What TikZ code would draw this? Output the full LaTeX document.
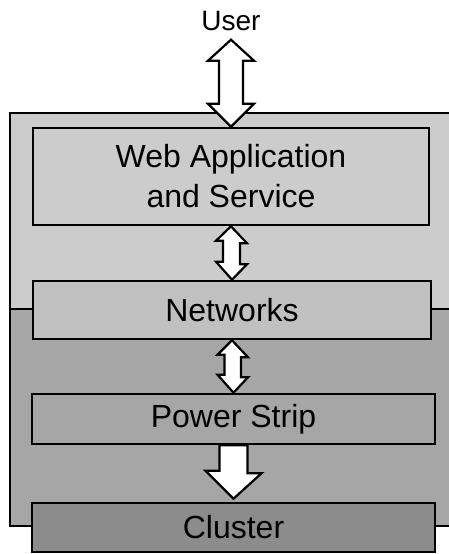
\documentclass[tikz,border=0pt]{standalone}
\usepackage{fontspec}
\setmainfont{Liberation Sans}
\usetikzlibrary{calc}
\definecolor{lightbg}{HTML}{CCCCCC}
\definecolor{darkbg}{HTML}{A6A6A6}
\definecolor{netfill}{HTML}{C0C0C0}
\definecolor{clufill}{HTML}{8C8C8C}
\tikzset{
  layerbox/.style={draw=black, line width=2.6pt, rectangle, inner sep=0pt, align=center,
    font=\fontsize{32}{40}\selectfont},
  blockarrow/.style={draw=black, fill=white, line width=2.2pt, line join=miter},
  region/.style={draw=black, line width=2.4pt},
}
\begin{document}
\begin{tikzpicture}[x=1pt,y=-1pt]
\useasboundingbox (0,0) rectangle (449,554);
\begin{scope}
\clip (0,0) rectangle (449,554);
% background regions
\fill[lightbg] (10,113) rectangle (470,309);
\fill[darkbg] (10,309) rectangle (470,526);
\draw[region] (470,113) -- (10,113) -- (10,526) -- (470,526);
\draw[region] (10,309) -- (470,309);
\end{scope}

% nodes
\node[layerbox, fill=lightbg, minimum width=396, minimum height=97] (web) at (231,176.5) {Web Application\\and Service};
\node[layerbox, fill=netfill, minimum width=398, minimum height=58] (net) at (232,310) {Networks};
\node[layerbox, fill=darkbg, minimum width=403, minimum height=50] (pow) at (233.5,419) {Power Strip};
\node[layerbox, fill=clufill, minimum width=403, minimum height=49] (clu) at (233.5,527.5) {Cluster};
\node[font=\fontsize{28}{34}\selectfont, inner sep=0pt] (user) at (231,21) {User};
\coordinate (usertip) at ($(web.north)+(0,-87)$);

% User <-> Web
\draw[blockarrow]
  (usertip) -- ++(23,21) -- ++(-11,0) -- ++(0,43) -- ++(11,0)
  -- (web.north) -- ++(-23,-23) -- ++(11,0) -- ++(0,-43) -- ++(-11,0) -- cycle;

% Web <-> Networks
\draw[blockarrow]
  (web.south) -- ++(16,17) -- ++(-7,0) -- ++(0,21) -- ++(7,0)
  -- (net.north) -- ++(-16,-18) -- ++(7,0) -- ++(0,-21) -- ++(-7,0) -- cycle;

% Networks <-> Power Strip
\draw[blockarrow]
  (net.south) -- ++(16,17) -- ++(-7,0) -- ++(0,20) -- ++(7,0)
  -- (pow.north) -- ++(-16,-18) -- ++(7,0) -- ++(0,-20) -- ++(-7,0) -- cycle;

% Power Strip -> Cluster
\coordinate (cltip) at ($(clu.north)+(0,-3)$);
\draw[blockarrow]
  ($(pow.south)+(-14,0)$) -- ++(28,0) -- ++(0,28) -- ++(14,0)
  -- (cltip) -- ++(-28,-28) -- ++(14,0) -- cycle;
\end{tikzpicture}
\end{document}
